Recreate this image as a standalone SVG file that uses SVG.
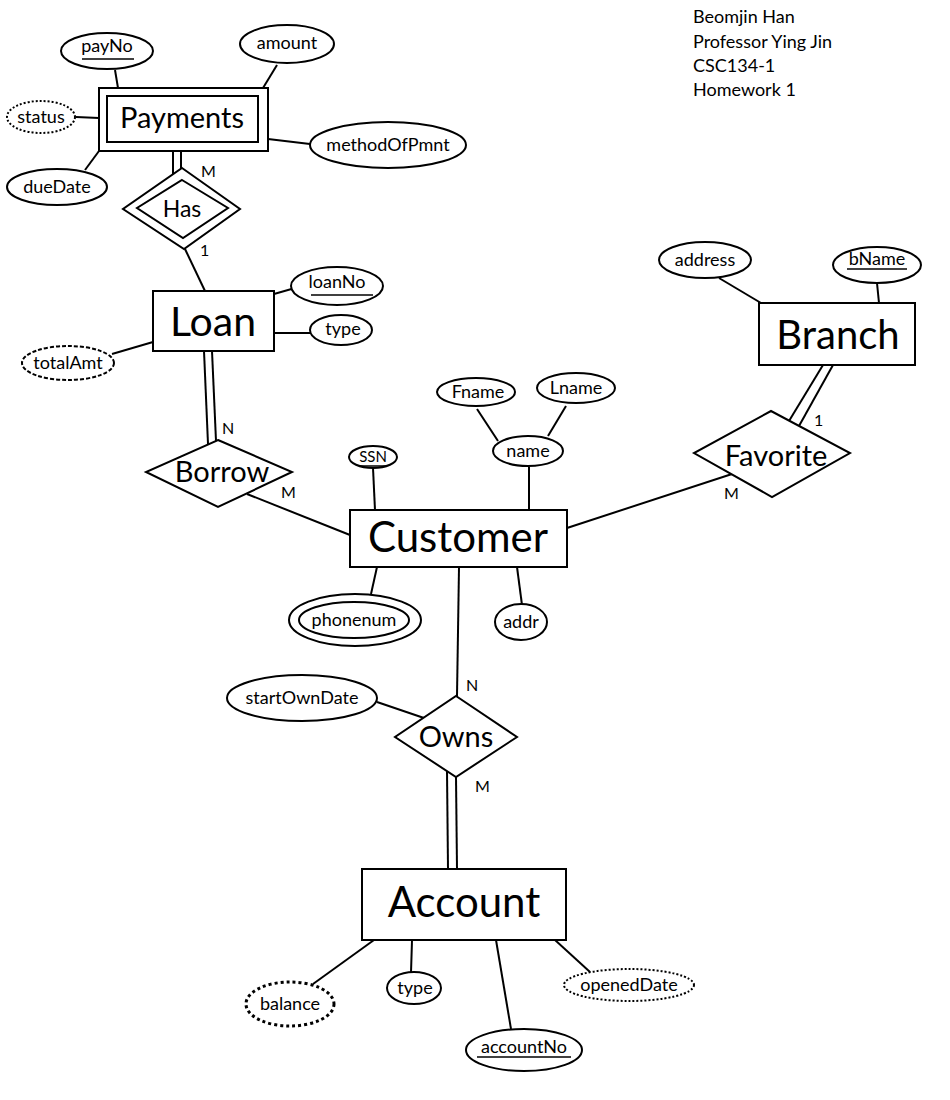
<svg xmlns="http://www.w3.org/2000/svg" width="950" height="1100" viewBox="0 0 950 1100">
<style>
text{font-family:Lato,"Open Sans","Liberation Sans",sans-serif;fill:#000}
.a{font-size:18px;text-anchor:middle}
.c{font-size:16px}
.e{fill:#fff;stroke:#000;stroke-width:2}
.l{stroke:#000;stroke-width:2;fill:none}
.dot{stroke-dasharray:2 2}
.dash{stroke-dasharray:4 2}
.bdot{stroke-width:3;stroke-dasharray:3 3}
.u{stroke:#000;stroke-width:1.5}
</style>
<rect width="950" height="1100" fill="#fff"/>
<g id="connectors" class="l">
<line x1="115" y1="70" x2="118" y2="88"/>
<line x1="277" y1="65" x2="263" y2="88"/>
<line x1="76" y1="117" x2="99" y2="118"/>
<line x1="268" y1="139" x2="310" y2="144"/>
<line x1="85" y1="170" x2="99" y2="151"/>
<line x1="173" y1="151" x2="173" y2="174"/>
<line x1="181" y1="151" x2="181" y2="169"/>
<line x1="185" y1="249" x2="205" y2="291"/>
<line x1="274" y1="294" x2="295" y2="288"/>
<line x1="274" y1="333" x2="311" y2="333"/>
<line x1="112" y1="354" x2="153" y2="342"/>
<line x1="204" y1="351" x2="208" y2="444"/>
<line x1="212" y1="351" x2="216" y2="441"/>
<line x1="247" y1="494" x2="350" y2="535"/>
<line x1="373" y1="468" x2="375" y2="510"/>
<line x1="477" y1="409" x2="498" y2="441"/>
<line x1="566" y1="406" x2="548" y2="436"/>
<line x1="529" y1="467" x2="529" y2="510"/>
<line x1="719" y1="278" x2="761" y2="303"/>
<line x1="877" y1="283" x2="879" y2="303"/>
<line x1="823" y1="365" x2="789" y2="421"/>
<line x1="833" y1="365" x2="799" y2="426"/>
<line x1="567" y1="528" x2="732" y2="474"/>
<line x1="377" y1="567" x2="371" y2="594"/>
<line x1="517" y1="567" x2="522" y2="605"/>
<line x1="459" y1="567" x2="457" y2="696"/>
<line x1="377" y1="702" x2="424" y2="718"/>
<line x1="447" y1="771" x2="448" y2="869"/>
<line x1="456" y1="777" x2="457" y2="869"/>
<line x1="374" y1="940" x2="313" y2="984"/>
<line x1="412" y1="940" x2="411" y2="973"/>
<line x1="496" y1="940" x2="511" y2="1029"/>
<line x1="555" y1="940" x2="590" y2="972"/>
</g>
<g id="payments">
<rect x="99" y="88" width="169" height="63" class="e"/>
<rect x="107" y="96" width="151" height="46" class="e"/>
<text x="182" y="128" font-size="29" text-anchor="middle">Payments</text>
</g>
<g id="payNo">
<ellipse cx="107" cy="51" rx="46" ry="18" class="e"/>
<text x="107" y="52" class="a">payNo</text>
<line x1="82" y1="59" x2="134" y2="59" class="u"/>
</g>
<g id="amount">
<ellipse cx="287" cy="44" rx="47" ry="19" class="e"/>
<text x="287" y="49" class="a">amount</text>
</g>
<g id="status">
<ellipse cx="41" cy="117" rx="34" ry="16" class="e dot"/>
<text x="41" y="123" class="a">status</text>
</g>
<g id="methodOfPmnt">
<ellipse cx="388" cy="145" rx="78" ry="23" class="e"/>
<text x="388" y="151" class="a">methodOfPmnt</text>
</g>
<g id="dueDate">
<ellipse cx="57" cy="187" rx="50" ry="18" class="e"/>
<text x="57" y="193" class="a">dueDate</text>
</g>
<g id="has">
<polygon points="182,168 240,209 184,249 123,209" class="e"/>
<polygon points="182,180 228,208 183,238 137,208" class="e"/>
<text x="182" y="217" font-size="23" text-anchor="middle">Has</text>
<text x="201" y="177" class="c">M</text>
<text x="200" y="256" class="c">1</text>
</g>
<g id="loan">
<rect x="153" y="291" width="121" height="60" class="e"/>
<text x="213" y="336" font-size="41" text-anchor="middle">Loan</text>
</g>
<g id="loanNo">
<ellipse cx="337" cy="286" rx="46" ry="19" class="e"/>
<text x="337" y="288" class="a">loanNo</text>
<line x1="311" y1="295" x2="373" y2="295" class="u"/>
</g>
<g id="loanType">
<ellipse cx="341" cy="330" rx="31" ry="15" class="e"/>
<text x="343" y="335" class="a">type</text>
</g>
<g id="totalAmt">
<ellipse cx="68" cy="363" rx="46" ry="17" class="e dash"/>
<text x="68" y="369" class="a">totalAmt</text>
</g>
<g id="borrow">
<polygon points="218,440 292,472 218,507 146,472" class="e"/>
<text x="222" y="482" font-size="29" text-anchor="middle">Borrow</text>
<text x="222" y="434" class="c">N</text>
<text x="281" y="498" class="c">M</text>
</g>
<g id="ssn">
<ellipse cx="373" cy="457" rx="24" ry="11" class="e"/>
<text x="373" y="462" font-size="15" text-anchor="middle">SSN</text>
<line x1="360" y1="466" x2="387" y2="466" class="u"/>
</g>
<g id="fname">
<ellipse cx="476" cy="392" rx="39" ry="14" class="e"/>
<text x="478" y="398" class="a">Fname</text>
</g>
<g id="lname">
<ellipse cx="576" cy="388" rx="39" ry="15" class="e"/>
<text x="576" y="394" class="a">Lname</text>
</g>
<g id="name">
<ellipse cx="528" cy="451" rx="35" ry="15" class="e"/>
<text x="528" y="457" class="a">name</text>
</g>
<g id="customer">
<rect x="350" y="510" width="217" height="57" class="e"/>
<text x="458" y="552" font-size="42" text-anchor="middle">Customer</text>
</g>
<g id="phonenum">
<ellipse cx="355" cy="620" rx="66" ry="26" class="e"/>
<ellipse cx="354" cy="620" rx="55" ry="18" class="e"/>
<text x="354" y="626" class="a">phonenum</text>
</g>
<g id="addr">
<ellipse cx="521" cy="622" rx="26" ry="18" class="e"/>
<text x="521" y="628" class="a">addr</text>
</g>
<g id="address">
<ellipse cx="705" cy="260" rx="46" ry="18" class="e"/>
<text x="705" y="266" class="a">address</text>
</g>
<g id="bName">
<ellipse cx="877" cy="265" rx="44" ry="18" class="e"/>
<text x="877" y="265" class="a">bName</text>
<line x1="847" y1="269" x2="907" y2="269" class="u"/>
</g>
<g id="branch">
<rect x="759" y="303" width="156" height="62" class="e"/>
<text x="838" y="349" font-size="40" text-anchor="middle">Branch</text>
</g>
<g id="favorite">
<polygon points="771,411 850,453 772,497 694,453" class="e"/>
<text x="776" y="466" font-size="29" text-anchor="middle">Favorite</text>
<text x="814" y="426" class="c">1</text>
<text x="724" y="499" class="c">M</text>
</g>
<g id="owns">
<polygon points="456,696 517,737 456,777 395,737" class="e"/>
<text x="456" y="747" font-size="29" text-anchor="middle">Owns</text>
<text x="466" y="691" class="c">N</text>
<text x="475" y="792" class="c">M</text>
</g>
<g id="startOwnDate">
<ellipse cx="302" cy="698" rx="75" ry="23" class="e"/>
<text x="302" y="704" class="a">startOwnDate</text>
</g>
<g id="account">
<rect x="362" y="869" width="204" height="71" class="e"/>
<text x="464" y="917" font-size="42" text-anchor="middle">Account</text>
</g>
<g id="balance">
<ellipse cx="290" cy="1004" rx="44" ry="22" class="e bdot"/>
<text x="290" y="1010" class="a">balance</text>
</g>
<g id="accountType">
<ellipse cx="414" cy="988" rx="27" ry="16" class="e"/>
<text x="415" y="994" class="a">type</text>
</g>
<g id="accountNo">
<ellipse cx="524" cy="1050" rx="58" ry="21" class="e"/>
<text x="524" y="1053" class="a">accountNo</text>
<line x1="477" y1="1057" x2="571" y2="1057" class="u"/>
</g>
<g id="openedDate">
<ellipse cx="629" cy="985" rx="65" ry="16" class="e dot"/>
<text x="629" y="991" class="a">openedDate</text>
</g>
<g id="heading" font-size="18">
<text x="693" y="23">Beomjin Han</text>
<text x="693" y="48">Professor Ying Jin</text>
<text x="693" y="72">CSC134-1</text>
<text x="693" y="96">Homework 1</text>
</g>
</svg>
